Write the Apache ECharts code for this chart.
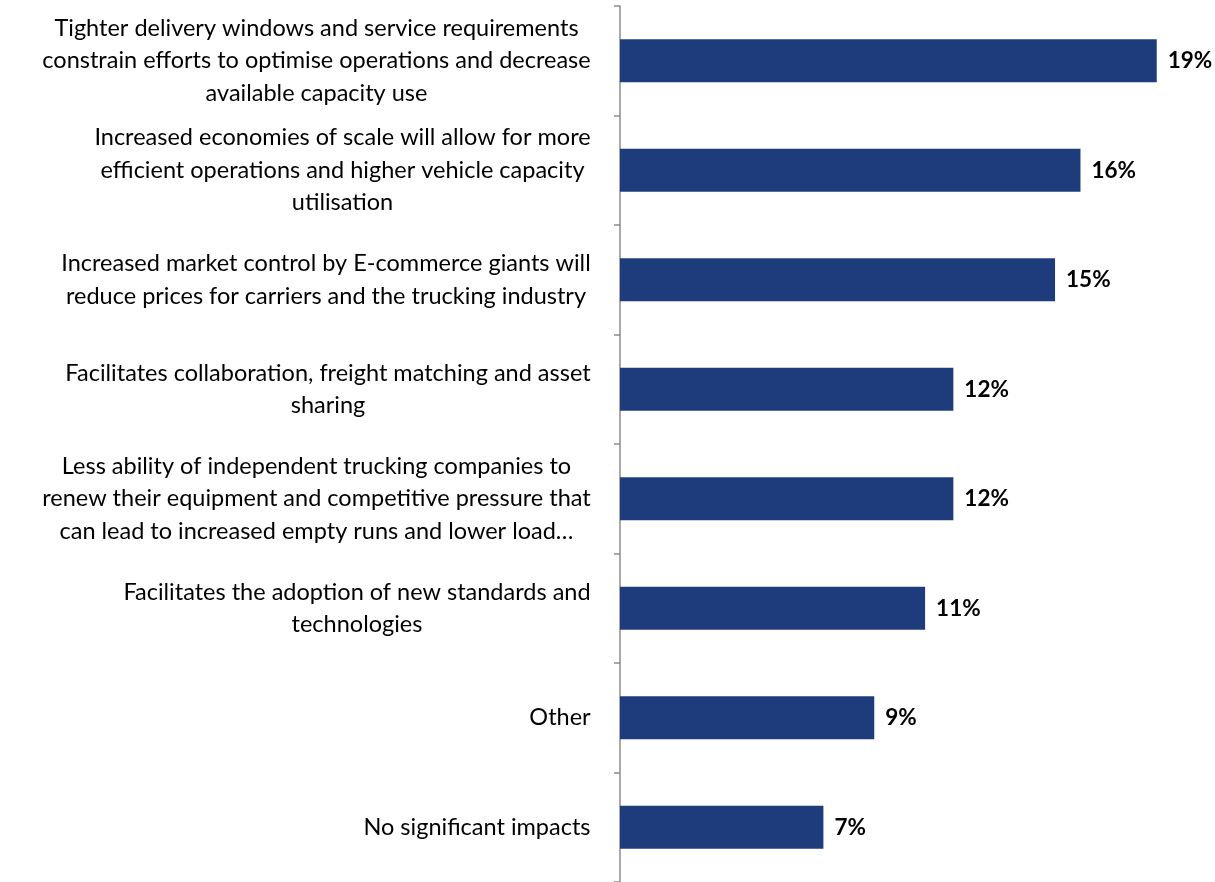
<!DOCTYPE html>
<html>
<head>
<meta charset="utf-8">
<script src="https://cdn.jsdelivr.net/npm/echarts@6/dist/echarts.min.js"></script>
<style>
  html, body { margin: 0; padding: 0; background: #ffffff; }
  #chart { width: 1215px; height: 882px; }
</style>
</head>
<body>
<div id="chart"></div>
<script>
// Survey categories, top to bottom (line breaks as shown on the axis)
const categories = [
  'Tighter delivery windows and service requirements\nconstrain efforts to optimise operations and decrease\navailable capacity use',
  'Increased economies of scale will allow for more\nefficient operations and higher vehicle capacity\nutilisation',
  'Increased market control by E-commerce giants will\nreduce prices for carriers and the trucking industry',
  'Facilitates collaboration, freight matching and asset\nsharing',
  'Less ability of independent trucking companies to\nrenew their equipment and competitive pressure that\ncan lead to increased empty runs and lower load\u2026',
  'Facilitates the adoption of new standards and\ntechnologies',
  'Other',
  'No significant impacts'
];

// Share of respondents (%)
const shares = [19.0, 16.3, 15.4, 11.8, 11.8, 10.8, 9.0, 7.2];

const LABEL_FONT = 'Lato';
const LABEL_SIZE = 23.5;
const LINE_H = 32.5;

// Width of each label block, so its lines can be centred inside it
const ctx = document.createElement('canvas').getContext('2d');
ctx.font = LABEL_SIZE + 'px ' + LABEL_FONT;
const rich = {};
categories.forEach((c, i) => {
  const w = Math.max(...c.split('\n').map(l => ctx.measureText(l).width));
  rich['b' + i] = {
    width: Math.ceil(w) + 2,
    align: 'center',
    fontFamily: LABEL_FONT,
    fontSize: LABEL_SIZE,
    lineHeight: LINE_H,
    color: '#000000'
  };
});

const chart = echarts.init(document.getElementById('chart'), null, { renderer: 'canvas' });

chart.setOption({
  animation: false,
  backgroundColor: '#ffffff',
  grid: { left: 620, right: 30, top: 6, bottom: -3, containLabel: false },
  xAxis: {
    type: 'value',
    min: 0,
    max: 20,
    show: false
  },
  yAxis: {
    type: 'category',
    inverse: true,
    data: categories,
    axisLine: { show: true, lineStyle: { color: '#8c8c8c', width: 1.5 } },
    axisTick: { show: true, inside: false, length: 6, alignWithLabel: false, lineStyle: { color: '#8c8c8c', width: 1.5 } },
    splitLine: { show: false },
    axisLabel: {
      margin: 28,
      align: 'right',
      verticalAlign: 'middle',
      formatter: (value, index) =>
        value.split('\n').map(l => '{b' + index + '|' + l + '}').join('\n'),
      rich: rich
    }
  },
  series: [{
    type: 'bar',
    data: shares,
    barWidth: 43,
    itemStyle: { color: '#1E3C7C' },
    label: {
      show: true,
      position: 'right',
      distance: 11,
      formatter: p => Math.round(p.value) + '%',
      fontFamily: LABEL_FONT,
      fontSize: 22.5,
      fontWeight: 'bold',
      color: '#000000'
    }
  }]
});
</script>
</body>
</html>
